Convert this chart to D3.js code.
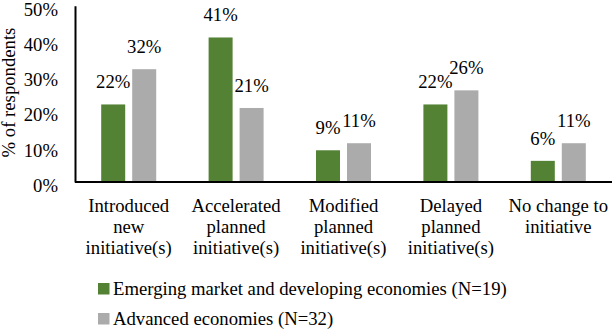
<!DOCTYPE html>
<html>
<head>
<meta charset="utf-8">
<script src="https://cdn.jsdelivr.net/npm/d3@7"></script>
<style>
  body { margin: 0; background: #fff; }
</style>
</head>
<body>
<div id="chart"></div>
<script>
// data
var categories = [
  ["Introduced", "new", "initiative(s)"],
  ["Accelerated", "planned", "initiative(s)"],
  ["Modified", "planned", "initiative(s)"],
  ["Delayed", "planned", "initiative(s)"],
  ["No change to", "initiative"]
];
var emerging = [22, 41, 9, 22, 6];
var advanced = [32, 21, 11, 26, 11];
var seriesNames = ["Emerging market and developing economies (N=19)", "Advanced economies (N=32)"];
var yTicks = [0, 10, 20, 30, 40, 50];

var width = 614, height = 333;
var margin = {top: 5.75, right: 2, bottom: 151, left: 75};
var w = width - margin.left - margin.right,
    h = height - margin.top - margin.bottom;
var colors = ["#548235", "#ABABAB"];
var font = "'Liberation Serif'";
var fs = "18.7px";

var svg = d3.select("#chart").append("svg")
    .attr("width", width)
    .attr("height", height);

var g = svg.append("g")
    .attr("transform", "translate(" + margin.left + "," + margin.top + ")");

var x = d3.scaleBand()
    .domain(d3.range(categories.length))
    .range([0, w]);

var y = d3.scaleLinear()
    .domain([0, 50])
    .range([h, 0]);

var barW = 24, gap = 7;

// y axis
var yAxis = d3.axisLeft(y).tickValues(yTicks).tickSize(0).tickPadding(17)
    .tickFormat(function(d) { return d + "%"; });
var ya = g.append("g").call(yAxis);
ya.select(".domain").attr("stroke", "#000").attr("stroke-width", 2);
ya.selectAll("text")
    .style("font-family", font).style("font-size", fs)
    .attr("fill", "#000").attr("dy", "0.5em");

// bars
var data = categories.map(function(c, i) { return {i: i, v: [emerging[i], advanced[i]]}; });
var grp = g.selectAll(".cat").data(data).enter().append("g")
    .attr("transform", function(d) { return "translate(" + (x(d.i) + x.bandwidth() / 2) + ",0)"; });

[0, 1].forEach(function(s) {
  var off = s === 0 ? -(barW + gap / 2) : gap / 2;
  grp.append("rect")
      .attr("x", off)
      .attr("width", barW)
      .attr("y", function(d) { return y(d.v[s]); })
      .attr("height", function(d) { return h - y(d.v[s]); })
      .attr("fill", colors[s]);
  grp.append("text")
      .attr("x", off + barW / 2)
      .attr("y", function(d) { return y(d.v[s]) - 16; })
      .attr("text-anchor", "middle")
      .style("font-family", font).style("font-size", fs)
      .text(function(d) { return d.v[s] + "%"; });
});

// x axis line
g.append("line")
    .attr("x1", 0).attr("x2", w)
    .attr("y1", h).attr("y2", h)
    .attr("stroke", "#000").attr("stroke-width", 2);

// category labels
grp.append("text")
    .attr("text-anchor", "middle")
    .style("font-family", font).style("font-size", fs)
    .selectAll("tspan")
    .data(function(d) { return categories[d.i]; })
    .enter().append("tspan")
    .attr("x", 0)
    .attr("y", function(d, j) { return h + 29.5 + j * 21; })
    .text(function(d) { return d; });

// y axis title
svg.append("text")
    .attr("transform", "translate(15," + 92.5 + ") rotate(-90)")
    .attr("text-anchor", "middle")
    .style("font-family", font).style("font-size", fs)
    .text("% of respondents");

// legend
var leg = svg.selectAll(".leg").data(seriesNames).enter().append("g")
    .attr("transform", function(d, i) { return "translate(98," + (289 + i * 30) + ")"; });
leg.append("rect")
    .attr("x", 0).attr("y", -6)
    .attr("width", 11.5).attr("height", 11.5)
    .attr("fill", function(d, i) { return colors[i]; });
leg.append("text")
    .attr("x", 15).attr("y", 6)
    .style("font-family", font).style("font-size", fs)
    .text(function(d) { return d; });
</script>
</body>
</html>
